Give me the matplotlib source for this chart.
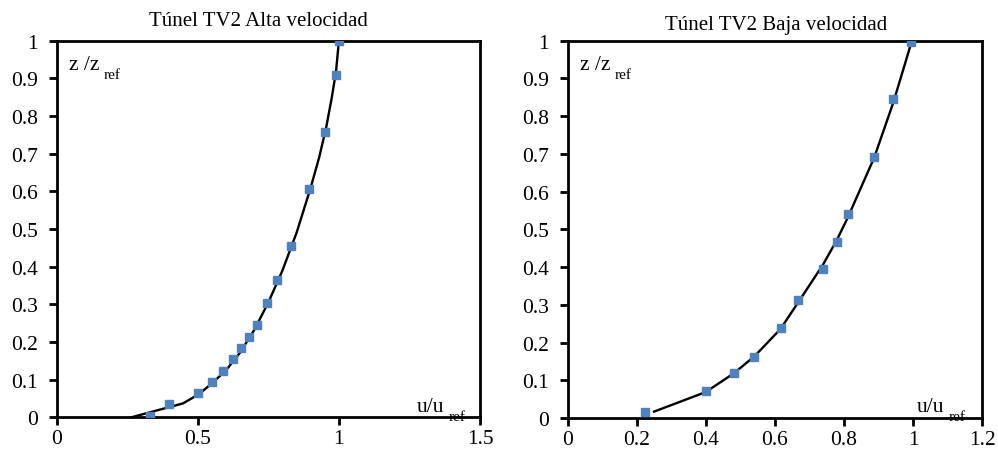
import matplotlib
matplotlib.use('Agg')
import matplotlib.pyplot as plt
from matplotlib.ticker import FuncFormatter

plt.rcParams['font.family'] = ['Liberation Serif', 'DejaVu Serif']

# Alta velocidad: measured points and fitted profile
alta_u = [0.330, 0.397, 0.502, 0.552, 0.591, 0.626, 0.654, 0.682, 0.708, 0.744, 0.781, 0.829, 0.895, 0.949, 0.991, 1.0]
alta_z = [0.004, 0.034, 0.064, 0.094, 0.124, 0.154, 0.184, 0.214, 0.245, 0.304, 0.365, 0.456, 0.606, 0.758, 0.909, 1.0]
alta_fit_u = [0.265, 0.448, 0.505, 0.55, 0.60, 0.65, 0.70, 0.75, 0.80, 0.85, 0.90, 0.93, 0.955, 0.975, 0.99, 1.0]
alta_fit_z = [0.0, 0.037, 0.062, 0.09, 0.125, 0.172, 0.232, 0.305, 0.39, 0.49, 0.61, 0.69, 0.77, 0.85, 0.92, 1.0]

# Baja velocidad
baja_u = [0.224, 0.400, 0.481, 0.540, 0.616, 0.666, 0.738, 0.778, 0.810, 0.887, 0.942, 0.995]
baja_z = [0.015, 0.072, 0.119, 0.163, 0.239, 0.314, 0.395, 0.466, 0.542, 0.693, 0.845, 0.996]
baja_fit_u = [0.250, 0.400, 0.480, 0.540, 0.616, 0.666, 0.738, 0.778, 0.810, 0.887, 0.942, 0.995]
baja_fit_z = [0.017, 0.069, 0.118, 0.163, 0.236, 0.305, 0.405, 0.470, 0.530, 0.690, 0.835, 0.996]

fig = plt.figure(figsize=(9.98, 4.56), dpi=100)
ax1 = fig.add_axes([0.0568, 0.0827, 0.4242, 0.8259])
ax2 = fig.add_axes([0.5688, 0.0811, 0.4155, 0.8275])

fmt = FuncFormatter(lambda v, p: ('%g' % round(v, 2)))


def sub_label(ax, x, y, main, sub):
    t = ax.text(x, y, main, transform=ax.transAxes, fontsize=15.5, ha='left', va='baseline')
    ax.annotate(sub, xy=(1, 0), xycoords=t, xytext=(3, -3), textcoords='offset points',
                fontsize=11, ha='left', va='baseline')


def style(ax, xmax, xstep, title, ty, ux):
    ax.set_xlim(0, xmax)
    ax.set_ylim(0, 1)
    ax.set_xticks([i * xstep for i in range(int(round(xmax / xstep)) + 1)])
    ax.set_yticks([i / 10 for i in range(11)])
    ax.xaxis.set_major_formatter(fmt)
    ax.yaxis.set_major_formatter(fmt)
    for s in ax.spines.values():
        s.set_linewidth(2)
    ax.tick_params(direction='out', length=5.5, width=2, labelsize=15.5)
    ax.tick_params(axis='y', pad=8)
    ax.tick_params(axis='x', pad=3)
    sub_label(ax, 0.03, 0.925, 'z /z', 'ref')
    sub_label(ax, ux, 0.018, 'u/u', 'ref')
    fig.text(ty[0], ty[1], title, fontsize=15, ha='center', va='center')


ax1.plot(alta_fit_u, alta_fit_z, color='black', lw=1.7, zorder=2)
ax1.plot(alta_u, alta_z, 's', color='#4F81BD', ms=5.5, zorder=3)
style(ax1, 1.5, 0.5, 'Túnel TV2 Alta velocidad', (0.259, 0.952), 0.85)

ax2.plot(baja_fit_u, baja_fit_z, color='black', lw=1.7, zorder=2)
ax2.plot(baja_u, baja_z, 's', color='#4F81BD', ms=5.5, zorder=3)
style(ax2, 1.2, 0.2, 'Túnel TV2 Baja velocidad', (0.778, 0.943), 0.842)

plt.savefig('out.png', dpi=100)
